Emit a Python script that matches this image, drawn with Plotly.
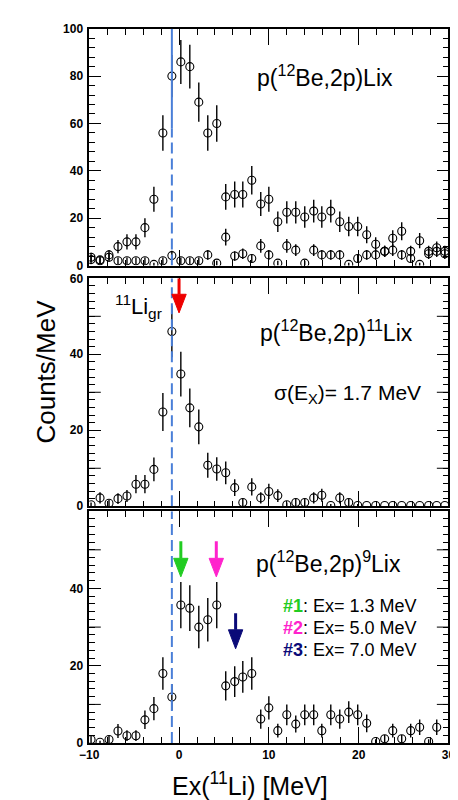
import plotly.graph_objects as go

# ---------------- data ----------------
ex = [-9.8, -8.8, -7.8, -6.8, -5.8, -4.8, -3.8, -2.8, -1.8, -0.8,
      0.2, 1.2, 2.2, 3.2, 4.2, 5.2, 6.2, 7.1, 8.1, 9.1,
      10.0, 11.0, 12.0, 13.0, 14.0, 15.0, 15.9, 16.9, 17.9, 18.9,
      19.9, 20.9, 21.9, 22.9, 23.8, 24.8, 25.8, 26.8, 27.8, 28.7, 29.6]

# panel 1: p(12Be,2p)Lix  (two spectra)
lix_all = [3.5, 2.4, 4.5, 8, 10, 10, 16, 28, 56, 80,
           86, 84, 69, 56, 60, 29, 30, 30, 36, 26,
           28, 18.5, 22.5, 22.5, 20.5, 23, 20.5, 23, 18.5, 16.5,
           16.5, 13, 9, 6, 11.5, 14.5, 6, 10.5, 6, 7.5, 6]
lix_all_err = [1.9, 1.5, 2.1, 2.8, 3.2, 3.2, 4.0, 5.3, 7.5, 8.9,
               9.3, 9.2, 8.3, 7.5, 7.7, 5.4, 5.5, 5.5, 6.0, 5.1,
               5.3, 4.3, 4.7, 4.7, 4.5, 4.8, 4.5, 4.8, 4.3, 4.1,
               4.1, 3.6, 3.0, 2.4, 3.4, 3.8, 2.4, 3.2, 2.4, 2.7, 2.4]
lix_low = [2.5, 2, 3.5, 2, 2, 2, 2, 0.5, 2, 4.2,
           2, 2, 2, 4.5, 1, 12, 4, 5, 3, 8.3,
           4.5, 1, 8.3, 6.5, 1, 6.5, 4.5, 4.5, 4.5, 0.5,
           3, 4.5, 4.5, 6, 6.5, 4.5, 3, 0.5, 5, 6, 5]
lix_low_err = [1.6, 1.4, 1.9, 1.4, 1.4, 1.4, 1.4, 0.7, 1.4, 2.0,
               1.4, 1.4, 1.4, 2.1, 1.0, 3.5, 2.0, 2.2, 1.7, 2.9,
               2.1, 1.0, 2.9, 2.5, 1.0, 2.5, 2.1, 2.1, 2.1, 0.7,
               1.7, 2.1, 2.1, 2.4, 2.5, 2.1, 1.7, 0.7, 2.2, 2.4, 2.2]

# panel 2: p(12Be,2p)11Lix
li11 = [0.4, 2.2, 0.8, 2, 2.7, 5.8, 5.8, 9.7, 24.8, 46,
        34.8, 25.9, 20.9, 10.8, 9.8, 8.8, 4.9, 1, 5.1, 2.2,
        3.9, 2.8, 0.4, 1, 1, 2.2, 2.9, 0.2, 2.2, 1,
        0.2, 0.2, 0.2, 0.2, 0.2, 0.2, 0.2, 0.2, 0.2, 0.2, 0.2]
li11_err = [0.6, 1.5, 0.9, 1.4, 1.6, 2.4, 2.4, 3.1, 5.0, 6.8,
            5.9, 5.1, 4.6, 3.3, 3.1, 3.0, 2.2, 1.0, 2.3, 1.5,
            2.0, 1.7, 0.6, 1.0, 1.0, 1.5, 1.7, 0.4, 1.5, 1.0,
            0.4, 0, 0, 0, 0, 0, 0, 0, 0, 0, 0]

# panel 3: p(12Be,2p)9Lix
li9 = [0.9, 0.2, 0.9, 3.1, 1.9, 1.9, 6, 8.9, 18, 11.9,
       35.7, 34.9, 30, 31.9, 35.7, 14.8, 15.9, 17.1, 18, 6.2,
       9.1, 3.2, 7.3, 4.9, 7.3, 7.3, 3.2, 7.3, 6.2, 8,
       7.3, 5.1, 0.4, 1.1, 3.2, 1.1, 3.2, 4.1, 0.4, 4.1, None]
li9_err = [0.9, 0.4, 0.9, 1.8, 1.4, 1.4, 2.4, 3.0, 4.2, 3.4,
           6.0, 5.9, 5.5, 5.6, 6.0, 3.8, 4.0, 4.1, 4.2, 2.5,
           3.0, 1.8, 2.7, 2.2, 2.7, 2.7, 1.8, 2.7, 2.5, 2.8,
           2.7, 2.3, 0.6, 1.0, 1.8, 1.0, 1.8, 2.0, 0.6, 2.0, 0]

# reference line (11Li ground state) and arrows
gs_line_x = -0.8
gs_solid_from = 58          # panel 1: solid above this value, dashed below
arrow_panel = ["y2", "y", "y", "y"]
arrow_x = [0.0, 0.2, 4.15, 6.3]
arrow_top = [60, 52.2, 52.2, 33.6]
arrow_base = [55.8, 47.8, 47.8, 29.3]
arrow_tip = [50.9, 43.0, 43.0, 24.4]
arrow_color = ["#ee0000", "#22cc22", "#ff22cc", "#0a0a78"]

states = ["#1", "#2", "#3"]
state_ex = ["1.3", "5.0", "7.0"]
state_color = ["#22cc22", "#ff22cc", "#0a0a78"]

x_ticks = [-10, 0, 10, 20, 30]
x_ticktext = ["\u221210", "0", "10", "20", "30"]

# ---------------- figure ----------------
W, H = 458, 800
X0, X1 = 74, 447
panels = {  # pixel top, bottom
    "p1": (14, 255),
    "p2": (268, 500),
    "p3": (505, 741),
}


def ydom(top, bot):
    return [1 - bot / H, 1 - top / H]


fig = go.Figure()

mk = dict(symbol="circle-open", size=8, color="black", line=dict(width=1.1, color="black"))
eb = lambda arr: dict(type="data", array=arr, visible=True, color="black", thickness=1.4, width=0)

fig.add_trace(go.Scatter(x=ex, y=lix_all, mode="markers", marker=mk, error_y=eb(lix_all_err),
                         xaxis="x3", yaxis="y3", showlegend=False))
fig.add_trace(go.Scatter(x=ex, y=lix_low, mode="markers", marker=mk, error_y=eb(lix_low_err),
                         xaxis="x3", yaxis="y3", showlegend=False))
fig.add_trace(go.Scatter(x=ex, y=li11, mode="markers", marker=mk, error_y=eb(li11_err),
                         xaxis="x2", yaxis="y2", showlegend=False))
fig.add_trace(go.Scatter(x=ex, y=li9, mode="markers", marker=mk, error_y=eb(li9_err),
                         xaxis="x", yaxis="y", showlegend=False))

tickfont = dict(family="Liberation Sans", size=12, color="black", weight="bold")
common_x = dict(range=[-10, 30], domain=[X0 / W, X1 / W], tickmode="array", tickvals=x_ticks,
                ticks="inside", ticklen=16, tickwidth=1, tickcolor="black",
                showline=True, linecolor="black", linewidth=1.5, mirror="allticks",
                showgrid=False, zeroline=False,
                minor=dict(ticks="inside", ticklen=6, tickwidth=1, tickcolor="black",
                           tickmode="array", tickvals=list(range(-10, 31, 2)), showgrid=False))


def yax(rng, vals, text, minor_step, dom):
    return dict(range=rng, domain=dom, tickmode="array", tickvals=vals, ticktext=text,
                ticks="inside", ticklen=12, tickwidth=1, tickcolor="black",
                showline=True, linecolor="black", linewidth=1.5, mirror="allticks",
                showgrid=False, zeroline=False, tickfont=tickfont, ticklabelstandoff=2,
                minor=dict(ticks="inside", ticklen=6, tickwidth=1, tickcolor="black",
                           tickmode="array", tickvals=list(range(rng[0], rng[1] + 1, minor_step)),
                           showgrid=False))


fig.update_layout(
    width=W, height=H, margin=dict(l=0, r=0, t=0, b=0),
    paper_bgcolor="white", plot_bgcolor="white",
    xaxis=dict(**common_x, anchor="y", showticklabels=True, ticktext=x_ticktext, tickfont=tickfont),
    xaxis2=dict(**common_x, anchor="y2", showticklabels=False),
    xaxis3=dict(**common_x, anchor="y3", showticklabels=False),
    yaxis=yax([0, 60], [0, 20, 40], ["0", "20", "40"], 2, ydom(*panels["p3"])),
    yaxis2=yax([0, 60], [0, 20, 40, 60], ["0", "20", "40", "60"], 2, ydom(*panels["p2"])),
    yaxis3=yax([0, 100], [0, 20, 40, 60, 80, 100], ["0", "20", "40", "60", "80", "100"], 4, ydom(*panels["p1"])),
)

blue = "#4a7fd8"
dash = "11px,5px"
shapes = [
    dict(type="line", xref="x3", yref="y3", x0=gs_line_x, x1=gs_line_x, y0=gs_solid_from, y1=100,
         line=dict(color=blue, width=2)),
    dict(type="line", xref="x3", yref="y3", x0=gs_line_x, x1=gs_line_x, y0=0, y1=gs_solid_from,
         line=dict(color=blue, width=2, dash=dash)),
    dict(type="line", xref="x2", yref="y2", x0=gs_line_x, x1=gs_line_x, y0=0, y1=60,
         line=dict(color=blue, width=2, dash=dash)),
    dict(type="line", xref="x", yref="y", x0=gs_line_x, x1=gs_line_x, y0=0, y1=60,
         line=dict(color=blue, width=2, dash=dash)),
]
# medium (unlabelled) y ticks at 10, 30, 50 in the lower two panels, both sides
med_len = 12 / (X1 - X0)
for yr, xr in (("y", "x"), ("y2", "x2")):
    for v in (10, 30, 50):
        for a, b in ((0, med_len), (1 - med_len, 1)):
            shapes.append(dict(type="line", xref=f"{xr} domain", yref=yr, x0=a, x1=b, y0=v, y1=v,
                               line=dict(color="black", width=1)))

hw = 0.8
for p, x, t, b, tip, c in zip(arrow_panel, arrow_x, arrow_top, arrow_base, arrow_tip, arrow_color):
    xr = "x2" if p == "y2" else "x"
    shapes.append(dict(type="line", xref=xr, yref=p, x0=x, x1=x, y0=b, y1=t,
                       line=dict(color=c, width=3)))
    shapes.append(dict(type="path", xref=xr, yref=p,
                       path=f"M {x - hw},{b} L {x + hw},{b} L {x},{tip} Z",
                       fillcolor=c, line=dict(color=c, width=1)))
fig.update_layout(shapes=shapes)

tf = "Liberation Sans"


def px(x):
    return x / W


def py(y):
    return 1 - y / H


ann = [
    dict(text="p(<sup>12</sup>Be,2p)Lix", x=px(319), y=py(62), size=23),
    dict(text="p(<sup>12</sup>Be,2p)<sup>11</sup>Lix", x=px(330.5), y=py(322), size=23),
    dict(text="\u03c3(E<sub>X</sub>)= 1.7 MeV", x=px(342.5), y=py(386), size=21),
    dict(text="<sup>11</sup>Li<sub>gr</sub>", x=px(125), y=py(297), size=22),
    dict(text="p(<sup>12</sup>Be,2p)<sup>9</sup>Lix", x=px(322), y=py(557), size=23),
    dict(text="Ex(<sup>11</sup>Li) [MeV]", x=px(240.5), y=py(783), size=25),
]
annotations = []
for a in ann:
    annotations.append(dict(text=a["text"], x=a["x"], y=a["y"], xref="paper", yref="paper",
                            xanchor="center", yanchor="middle", showarrow=False,
                            font=dict(family=tf, size=a["size"], color="black")))
annotations.append(dict(text="Counts/MeV", x=px(29), y=py(363), xref="paper", yref="paper",
                        xanchor="center", yanchor="middle", showarrow=False, textangle=-90,
                        font=dict(family=tf, size=26, color="black")))
for i, (s, e, c) in enumerate(zip(states, state_ex, state_color)):
    annotations.append(dict(text=f"<b><span style='color:{c}'>{s}</span></b>: Ex= {e} MeV",
                            x=px(273), y=py(602 + 22 * i), xref="paper", yref="paper",
                            xanchor="left", yanchor="middle", showarrow=False,
                            font=dict(family=tf, size=18, color="black")))
fig.update_layout(annotations=annotations)

fig.write_html("out.html")
